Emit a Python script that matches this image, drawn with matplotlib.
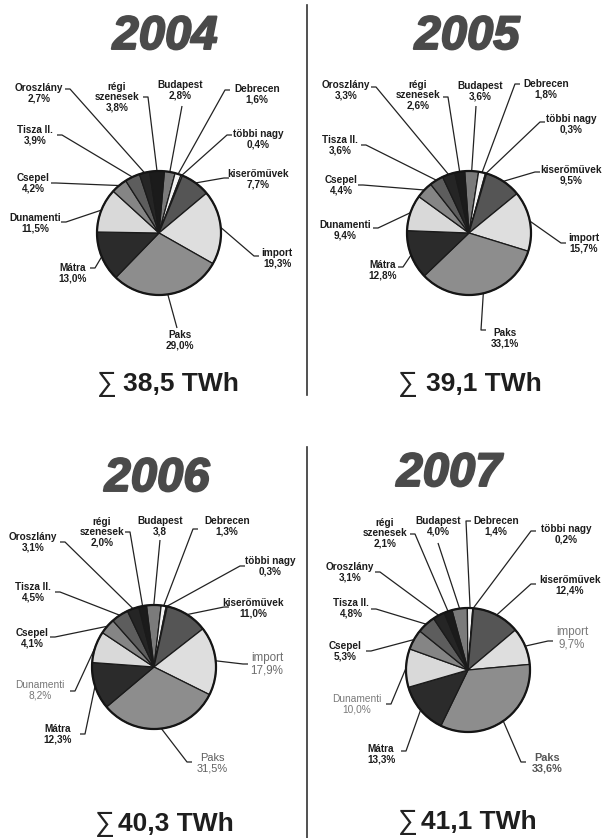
import matplotlib
matplotlib.use("Agg")
import matplotlib.pyplot as plt
import matplotlib.patheffects as pe
import numpy as np

# ---------------------------------------------------------------- data
categories = ["Budapest", "Debrecen", "többi nagy", "kiserőművek", "import",
              "Paks", "Mátra", "Dunamenti", "Csepel", "Tisza II.",
              "Oroszlány", "régi\nszenesek"]

years = ["2004", "2005", "2006", "2007"]
totals_twh = ["38,5", "39,1", "40,3", "41,1"]

shares_2004 = [2.8, 1.6, 0.4, 7.7, 19.3, 29.0, 13.0, 11.5, 4.2, 3.9, 2.7, 3.8]
shares_2005 = [3.6, 1.8, 0.3, 9.5, 15.7, 33.1, 12.8, 9.4, 4.4, 3.6, 3.3, 2.6]
shares_2006 = [3.8, 1.3, 0.3, 11.0, 17.9, 31.5, 12.3, 8.2, 4.1, 4.5, 3.1, 2.0]
shares_2007 = [4.0, 1.4, 0.2, 12.4, 9.7, 33.6, 13.3, 10.0, 5.3, 4.8, 3.1, 2.1]
shares = [shares_2004, shares_2005, shares_2006, shares_2007]

# value labels printed without a percent sign
no_percent = {("2006", "Budapest")}

# ---------------------------------------------------------------- styling
slice_colors = ["#7b7b7b", "#f4f4f4", "#e6e6e6", "#555555", "#dedede",
                "#8d8d8d", "#2b2b2b", "#d9d9d9", "#858585", "#5d5d5d",
                "#252525", "#1b1b1b"]

W, H = 606, 838
R = 62

# per panel: pie centre (px), start angle, title centre, caption anchors
panels = {
    "2004": dict(center=(159, 233), start=85.0, title=(165, 37),
                 sigma=(97, 384), total=(123, 384)),
    "2005": dict(center=(469, 233), start=94.0, title=(467, 37),
                 sigma=(398, 384), total=(426, 384)),
    "2006": dict(center=(154, 667), start=97.0, title=(157, 479),
                 sigma=(95, 824), total=(118, 824)),
    "2007": dict(center=(468, 670), start=105.0, title=(449, 474),
                 sigma=(398, 822), total=(421, 822)),
}

# label text centre (tx, ty) and leader start (sx, sy), image pixels
label_pos = {
    "2004": [(180, 90, 182, 106), (257, 94, 230, 90), (258, 139, 232, 135),
             (258, 179, 229, 178), (277, 258, 259, 256), (180, 340, 177, 328),
             (73, 273, 90, 268), (35, 223, 61, 222), (33, 183, 51, 183),
             (35, 135, 57, 135), (39, 93, 65, 89), (117, 97, 143, 97)],
    "2005": [(480, 91, 476, 106), (546, 89, 520, 84), (571, 124, 545, 122),
             (571, 175, 540, 172), (584, 243, 566, 243), (505, 338, 486, 330),
             (383, 270, 398, 267), (345, 230, 373, 228), (341, 185, 358, 185),
             (340, 145, 361, 145), (346, 90, 371, 87), (418, 95, 443, 97)],
    "2006": [(160, 526, 160, 540), (227, 526, 198, 529), (270, 566, 245, 566),
             (253, 608, 229, 607), (267, 664, 248, 664), (212, 763, 192, 762),
             (58, 734, 80, 734), (40, 690, 70, 691), (32, 638, 50, 637),
             (33, 592, 55, 592), (33, 542, 60, 542), (102, 532, 125, 532)],
    "2007": [(438, 526, 438, 543), (496, 526, 471, 521), (566, 534, 536, 531),
             (570, 585, 536, 584), (572, 638, 553, 641), (547, 763, 526, 762),
             (381, 754, 401, 751), (357, 704, 386, 704), (345, 651, 366, 651),
             (351, 608, 371, 609), (350, 572, 375, 572), (385, 533, 410, 534)],
}

# labels printed in grey
grey_labels = {
    ("2006", "import"): dict(color="#6e6e6e", weight="normal", size=8.4),
    ("2006", "Dunamenti"): dict(color="#777777", weight="normal", size=7.3),
    ("2006", "Paks"): dict(color="#5e5e5e", weight="normal", size=7.9),
    ("2007", "import"): dict(color="#7a7a7a", weight="normal", size=8.4),
    ("2007", "Dunamenti"): dict(color="#7a7a7a", weight="normal", size=7.3),
    ("2007", "Paks"): dict(color="#555555", weight="bold", size=7.8),
}

SANS = ["Liberation Sans", "DejaVu Sans"]
TITLE_FONT = ["Liberation Sans Narrow", "Liberation Sans", "DejaVu Sans"]
TEXT_COLOR = "#1c1c1c"
TITLE_COLOR = "#4a4a4a"


def fy(y):
    """image row -> axes y (origin at bottom)."""
    return H - y


fig = plt.figure(figsize=(W / 100, H / 100), dpi=100)
ax = fig.add_axes([0, 0, 1, 1])

for year, vals, total in zip(years, shares, totals_twh):
    p = panels[year]
    cx, cy = p["center"]
    wedges, _ = ax.pie(vals, colors=slice_colors, radius=R,
                       center=(cx, fy(cy)), startangle=p["start"],
                       counterclock=False,
                       wedgeprops=dict(edgecolor="#1a1a1a", linewidth=0.9,
                                       zorder=3))
    ax.add_patch(plt.Circle((cx, fy(cy)), R, fill=False, edgecolor="#151515",
                            linewidth=1.6, zorder=4))

    for i, (name, v, w) in enumerate(zip(categories, vals, wedges)):
        tx, ty, sx, sy = label_pos[year][i]
        mid = np.deg2rad((w.theta1 + w.theta2) / 2)
        ex = cx + R * np.cos(mid)
        ey = fy(cy) + R * np.sin(mid)
        xs, ys = [sx], [fy(sy)]
        if abs(sx - tx) > 10:
            xs.append(sx + 5 * np.sign(ex - sx))
            ys.append(fy(sy))
        xs.append(ex)
        ys.append(ey)
        ax.plot(xs, ys, color="#222222", linewidth=0.9, zorder=1,
                solid_capstyle="butt")

        val = f"{v:.1f}".replace(".", ",")
        if (year, name) not in no_percent:
            val += "%"
        style = grey_labels.get((year, name),
                                dict(color=TEXT_COLOR, weight="bold", size=7.2))
        ax.text(tx, fy(ty), f"{name}\n{val}", ha="center", va="center",
                multialignment="center", linespacing=1.05,
                family=SANS, zorder=5, **style)

    tx, ty = p["title"]
    ax.text(tx, fy(ty), year, ha="center", va="center", fontsize=34,
            fontweight="bold", fontstyle="italic", color=TITLE_COLOR,
            family=TITLE_FONT,
            path_effects=[pe.withStroke(linewidth=1.4, foreground=TITLE_COLOR)])

    sx_, sy_ = p["sigma"]
    ax.text(sx_, fy(sy_), "∑", ha="left", va="center", fontsize=20,
            color="#222222", family=SANS)
    tx2, ty2 = p["total"]
    ax.text(tx2, fy(ty2), f"{total} TWh", ha="left", va="center",
            fontsize=19, fontweight="bold", color="#1e1e1e", family=SANS)

# panel separators
ax.plot([307, 307], [fy(5), fy(395)], color="#333333", linewidth=1.2)
ax.plot([307, 307], [fy(447), fy(838)], color="#333333", linewidth=1.2)

ax.set_xlim(0, W)
ax.set_ylim(0, H)
ax.set_aspect("equal")
ax.axis("off")

fig.savefig("out.png", dpi=100, facecolor="white")
